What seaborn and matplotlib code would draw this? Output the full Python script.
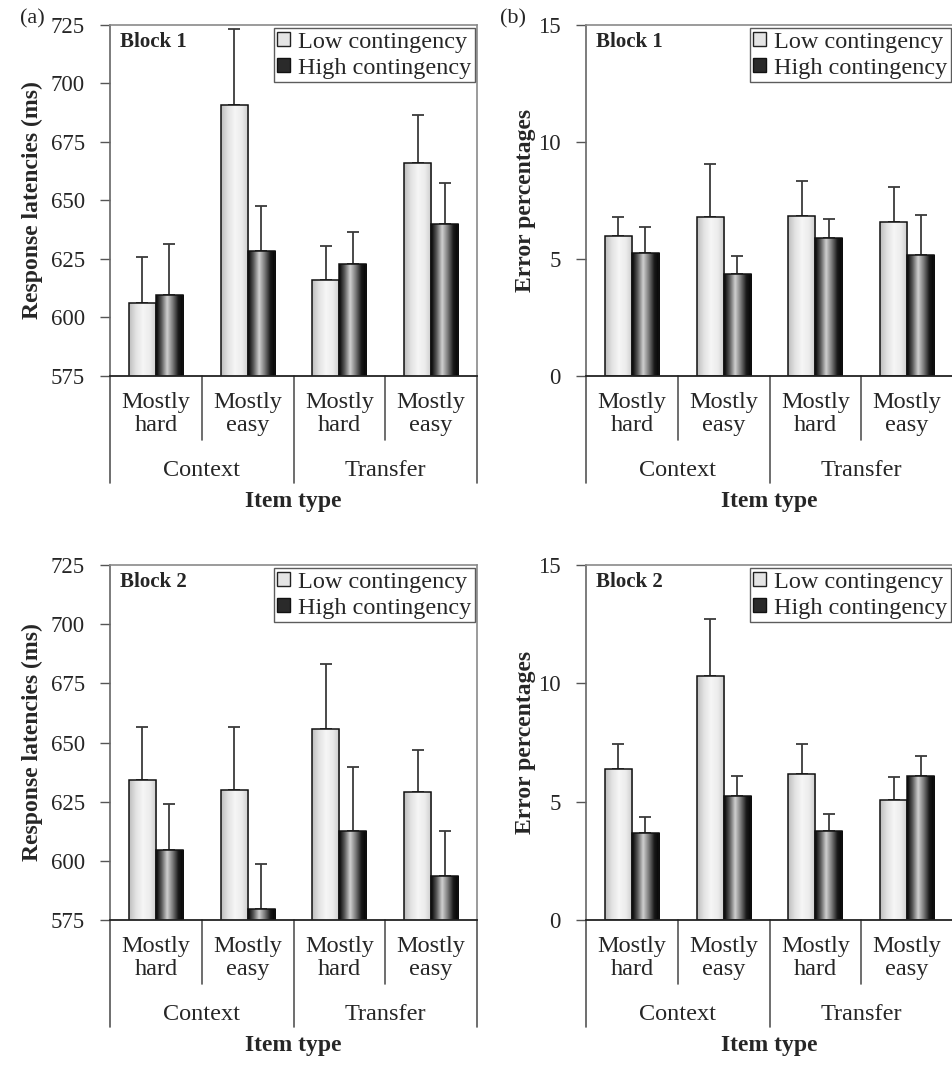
"""Response latencies and error percentages by item type, contingency and block."""
import matplotlib.pyplot as plt
import matplotlib.transforms as mtransforms
import numpy as np
import pandas as pd
import seaborn as sns
from matplotlib.colors import LinearSegmentedColormap
from matplotlib.patches import Patch

items = ["MH_C", "ME_C", "MH_T", "ME_T"]
item_labels = ["Mostly\nhard", "Mostly\neasy", "Mostly\nhard", "Mostly\neasy"]
groups = ["Context", "Transfer"]
conditions = ["Low contingency", "High contingency"]

# means and (upper) error bars, order of items above
rt_b1_low = [606, 691, 616, 666]
rt_b1_low_se = [20, 32.5, 14.5, 20.5]
rt_b1_high = [609.5, 628.5, 623, 640]
rt_b1_high_se = [22, 19, 13.5, 17.5]

rt_b2_low = [634, 630, 655.5, 629]
rt_b2_low_se = [22.5, 26.5, 27.5, 18]
rt_b2_high = [604.5, 579.5, 612.5, 593.5]
rt_b2_high_se = [19.5, 19, 27, 19]

err_b1_low = [6.0, 6.8, 6.85, 6.6]
err_b1_low_se = [0.78, 2.27, 1.48, 1.48]
err_b1_high = [5.25, 4.37, 5.9, 5.15]
err_b1_high_se = [1.1, 0.75, 0.8, 1.72]

err_b2_low = [6.37, 10.31, 6.15, 5.05]
err_b2_low_se = [1.05, 2.39, 1.27, 1.01]
err_b2_high = [3.67, 5.26, 3.74, 6.09]
err_b2_high_se = [0.7, 0.84, 0.73, 0.82]

panels = [
    ("Block 1", "Response latencies (ms)", rt_b1_low, rt_b1_low_se, rt_b1_high, rt_b1_high_se,
     (575, 725), np.arange(575, 726, 25)),
    ("Block 1", "Error percentages", err_b1_low, err_b1_low_se, err_b1_high, err_b1_high_se,
     (0, 15), [0, 5, 10, 15]),
    ("Block 2", "Response latencies (ms)", rt_b2_low, rt_b2_low_se, rt_b2_high, rt_b2_high_se,
     (575, 725), np.arange(575, 726, 25)),
    ("Block 2", "Error percentages", err_b2_low, err_b2_low_se, err_b2_high, err_b2_high_se,
     (0, 15), [0, 5, 10, 15]),
]

sns.set_style("white")
plt.rcParams["font.family"] = ["Liberation Serif", "DejaVu Serif"]

light_cmap = LinearSegmentedColormap.from_list(
    "light", ["#bdbdbd", "#e2e2e2", "#f6f6f6", "#ececec", "#cacaca"])
dark_cmap = LinearSegmentedColormap.from_list(
    "dark", ["#000000", "#5a5a5a", "#d0d0d0", "#7a7a7a", "#1a1a1a", "#000000"])
cmaps = [light_cmap, dark_cmap]

fig = plt.figure(figsize=(9.52, 10.76), dpi=100)
W, H = 952, 1076
boxes = [(110, 25, 367, 351), (586, 25, 367, 351),
         (110, 565, 367, 355), (586, 565, 367, 355)]

grad = np.linspace(0, 1, 256).reshape(1, -1)

for (block, ylabel, lo, lo_se, hi, hi_se, ylim, yticks), (px, py, pw, ph) in zip(panels, boxes):
    ax = fig.add_axes([px / W, 1 - (py + ph) / H, pw / W, ph / H])
    df = pd.DataFrame({
        "item": items * 2,
        "condition": [conditions[0]] * 4 + [conditions[1]] * 4,
        "value": lo + hi,
    })
    sns.barplot(data=df, x="item", y="value", hue="condition", order=items,
                hue_order=conditions, width=0.59, errorbar=None, legend=False,
                edgecolor="#111111", linewidth=1.1, ax=ax)

    for k, (cont, se) in enumerate(zip(ax.containers, [lo_se, hi_se])):
        for bar, e in zip(cont, se):
            x0, w, h = bar.get_x(), bar.get_width(), bar.get_height()
            img = ax.imshow(grad, cmap=cmaps[k], aspect="auto",
                            extent=[x0, x0 + w, ylim[0], h], zorder=1.5)
            img.set_clip_path(bar)
            bar.set_facecolor("none")
            bar.set_zorder(2)
            ax.errorbar(x0 + w / 2, h, yerr=[[0], [e]], fmt="none",
                        ecolor="#3a3a3a", elinewidth=1.3, capsize=4,
                        capthick=1.3, zorder=1.4)

    ax.set_xlim(-0.5, 3.5)
    ax.set_ylim(*ylim)
    ax.set_yticks(yticks)
    ax.set_xticks([])
    ax.set_xlabel("")
    ax.set_ylabel(ylabel, fontsize=17, fontweight="bold")
    ax.yaxis.set_label_coords(-0.183 if "latencies" in ylabel else -0.135, 0.5)
    ax.tick_params(axis="y", direction="out", length=7, width=1.0,
                   color="#555555", labelsize=16.5, pad=11, left=True)
    for side in ["top", "right"]:
        ax.spines[side].set_color("#8a8a8a")
        ax.spines[side].set_linewidth(1.2)
    ax.spines["left"].set_color("#666666")
    ax.spines["left"].set_linewidth(1.2)
    ax.spines["bottom"].set_color("#222222")
    ax.spines["bottom"].set_linewidth(1.3)

    trans = mtransforms.blended_transform_factory(ax.transData, ax.transAxes)
    short = -64 / ph
    long_ = -107 / ph
    for xv in [0.5, 2.5]:
        ax.plot([xv, xv], [0, short], transform=trans, clip_on=False,
                color="#555555", lw=1.2)
    for xv in [-0.5, 1.5, 3.5]:
        ax.plot([xv, xv], [0, long_], transform=trans, clip_on=False,
                color="#555555", lw=1.2)
    for i, lab in enumerate(item_labels):
        ax.text(i, -38 / ph, lab, transform=trans, ha="center", va="center",
                fontsize=17.5, linespacing=1.1)
    for g, lab in enumerate(groups):
        ax.text(0.5 + 2 * g, -94 / ph, lab, transform=trans, ha="center",
                va="center", fontsize=17.5)
    ax.text(0.5, -125 / ph, "Item type", transform=ax.transAxes, ha="center",
            va="center", fontsize=17, fontweight="bold")

    ax.text(0.027, 0.952, block, transform=ax.transAxes, ha="left", va="center",
            fontsize=15, fontweight="bold")

    handles = [Patch(facecolor="#e4e4e4", edgecolor="#222222", linewidth=1.0),
               Patch(facecolor="#2a2a2a", edgecolor="#111111", linewidth=1.0)]
    leg = ax.legend(handles, conditions, loc="upper right",
                    bbox_to_anchor=(1 - 2 / pw, 1 - 3 / ph), fontsize=17.5,
                    frameon=True, fancybox=False, borderpad=0.15,
                    labelspacing=0.2, handlelength=0.5, handleheight=0.5,
                    handletextpad=0.35, borderaxespad=0.0)
    leg.get_frame().set_edgecolor("#333333")
    leg.get_frame().set_linewidth(1.0)

fig.text(32 / W, 1 - 19 / H, "(a)", ha="center", va="center", fontsize=16)
fig.text(513 / W, 1 - 19 / H, "(b)", ha="center", va="center", fontsize=16)

fig.savefig("out.png", dpi=100)
